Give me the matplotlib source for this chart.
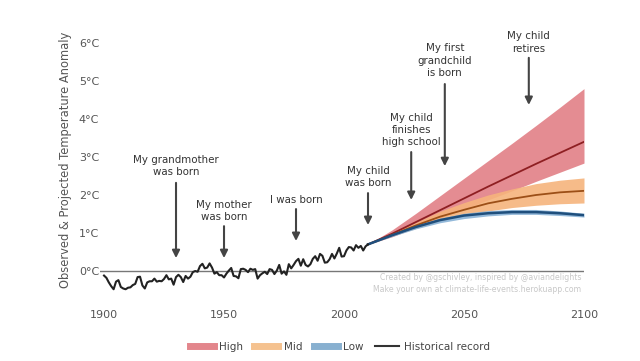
import matplotlib
matplotlib.use("Agg")
import matplotlib.pyplot as plt
from matplotlib.lines import Line2D
import numpy as np

# ---------------- data ----------------
hist_years = list(range(1900, 2011))
hist_temp = [
    -0.12, -0.18, -0.30, -0.40, -0.48, -0.28, -0.24, -0.42, -0.46, -0.48,  # 1900s
    -0.44, -0.43, -0.37, -0.34, -0.16, -0.15, -0.38, -0.46, -0.30, -0.27,  # 1910s
    -0.27, -0.20, -0.28, -0.26, -0.27, -0.21, -0.11, -0.22, -0.20, -0.36,  # 1920s
    -0.16, -0.10, -0.16, -0.29, -0.13, -0.20, -0.15, -0.03, 0.00, -0.02,   # 1930s
    0.13, 0.19, 0.07, 0.09, 0.20, 0.09, -0.07, -0.03, -0.11, -0.11,        # 1940s
    -0.17, -0.07, 0.01, 0.08, -0.13, -0.14, -0.19, 0.05, 0.06, 0.03,       # 1950s
    -0.03, 0.06, 0.03, 0.05, -0.20, -0.11, -0.06, -0.02, -0.08, 0.05,      # 1960s
    0.03, -0.08, 0.01, 0.16, -0.07, -0.01, -0.10, 0.18, 0.07, 0.16,        # 1970s
    0.26, 0.32, 0.14, 0.31, 0.16, 0.12, 0.18, 0.32, 0.39, 0.27,            # 1980s
    0.45, 0.40, 0.22, 0.23, 0.31, 0.45, 0.33, 0.46, 0.61, 0.38,            # 1990s
    0.39, 0.54, 0.63, 0.62, 0.54, 0.68, 0.61, 0.66, 0.54, 0.65, 0.70,      # 2000s-2010
]

proj_years = [2010, 2020, 2030, 2040, 2050, 2060, 2070, 2080, 2090, 2100]
high_mid = [0.70, 0.98, 1.29, 1.60, 1.91, 2.22, 2.52, 2.82, 3.11, 3.40]
high_up  = [0.70, 1.08, 1.52, 1.98, 2.44, 2.90, 3.36, 3.83, 4.31, 4.80]
high_lo  = [0.70, 0.90, 1.14, 1.39, 1.63, 1.87, 2.11, 2.36, 2.60, 2.84]
mid_mid  = [0.70, 0.95, 1.20, 1.43, 1.61, 1.78, 1.90, 2.00, 2.07, 2.11]
mid_up   = [0.70, 0.99, 1.28, 1.57, 1.80, 2.00, 2.16, 2.30, 2.39, 2.45]
mid_lo   = [0.70, 0.92, 1.12, 1.31, 1.46, 1.58, 1.67, 1.73, 1.77, 1.79]
low_mid  = [0.70, 0.94, 1.16, 1.34, 1.46, 1.52, 1.55, 1.55, 1.52, 1.47]
low_up   = [0.70, 0.96, 1.20, 1.39, 1.52, 1.59, 1.62, 1.62, 1.58, 1.52]
low_lo   = [0.70, 0.91, 1.11, 1.27, 1.38, 1.45, 1.49, 1.49, 1.46, 1.42]

event_labels = ["My grandmother\nwas born", "My mother\nwas born", "I was born",
                "My child\nwas born", "My child\nfinishes\nhigh school",
                "My first\ngrandchild\nis born", "My child\nretires"]
event_years = [1930, 1950, 1980, 2010, 2028, 2042, 2077]
event_tip = [0.34, 0.34, 0.79, 1.21, 1.87, 2.76, 4.37]
event_tail = [2.32, 1.18, 1.63, 2.05, 3.13, 4.92, 5.61]
event_text = [2.76, 1.58, 1.87, 2.47, 3.71, 5.53, 6.01]

y_ticks = [0, 1, 2, 3, 4, 5, 6]
y_ticklabels = ["0°C", "1°C", "2°C", "3°C", "4°C", "5°C", "6°C"]
x_ticks = [1900, 1950, 2000, 2050, 2100]

# ---------------- style ----------------
c_high_f, c_high_l = "#e3868c", "#8e1f22"
c_mid_f, c_mid_l = "#f6b47c", "#9c4f17"
c_low_f, c_low_l = "#88b2d6", "#1f4f7d"

plt.rcParams['font.family'] = ['DejaVu Sans']
fig = plt.figure(figsize=(6.4, 3.61), dpi=100)
ax = fig.add_axes([0.1569, 0.1756, 0.7556, 0.7263])
ax.set_xlim(1898.5, 2100)
ax.set_ylim(-0.7, 6.2)

ax.axhline(0, color="#777777", lw=1.0, zorder=1)

ax.fill_between(proj_years, high_lo, high_up, color=c_high_f, alpha=0.95, lw=0, zorder=2)
ax.fill_between(proj_years, mid_lo, mid_up, color=c_mid_f, alpha=0.9, lw=0, zorder=3)
ax.fill_between(proj_years, low_lo, low_up, color=c_low_f, alpha=0.9, lw=0, zorder=4)
ax.plot(proj_years, high_mid, color=c_high_l, lw=1.3, zorder=5)
ax.plot(proj_years, mid_mid, color=c_mid_l, lw=1.3, zorder=5)
ax.plot(proj_years, low_mid, color=c_low_l, lw=1.8, zorder=5)

ax.plot(hist_years, hist_temp, color="#222222", lw=1.5, zorder=6)

for lab, yr, tip, tail, ty in zip(event_labels, event_years, event_tip, event_tail, event_text):
    ax.annotate("", xy=(yr, tip), xytext=(yr, tail),
                arrowprops=dict(arrowstyle="-|>", color="#444444", lw=1.5,
                                mutation_scale=11, shrinkA=0, shrinkB=0), zorder=7)
    ax.text(yr, ty, lab, ha="center", va="center", fontsize=7.4, color="#333333",
            linespacing=1.3, zorder=7)

ax.set_yticks(y_ticks)
ax.set_yticklabels(y_ticklabels)
ax.set_xticks(x_ticks)
ax.tick_params(axis="both", length=0, labelsize=8, colors="#555555")
ax.tick_params(axis="x", pad=9)
ax.tick_params(axis="y", pad=1)
for s in ax.spines.values():
    s.set_visible(False)

fig.text(0.1016, 0.557, "Observed & Projected Temperature Anomaly", rotation=90,
         ha="center", va="center", fontsize=8.3, color="#555555")

ax.text(2099, -0.33, "Created by @gschivley, inspired by @aviandelights\nMake your own at climate-life-events.herokuapp.com",
        ha="right", va="center", fontsize=5.6, color="#c8c8c8", linespacing=1.45, zorder=7)

handles = [Line2D([], [], color=c_high_f, lw=5),
           Line2D([], [], color="#f5c28f", lw=5),
           Line2D([], [], color="#88b0d0", lw=5),
           Line2D([], [], color="#333333", lw=1.5)]
fig.legend(handles, ["High", "Mid", "Low", "Historical record"], loc="center",
           bbox_to_anchor=(0.531, 0.039), ncol=4, frameon=False, fontsize=7.5,
           handlelength=2.3, columnspacing=1.1, handletextpad=0.5,
           labelcolor="#444444")

fig.savefig("out.png", dpi=100, facecolor="white")
